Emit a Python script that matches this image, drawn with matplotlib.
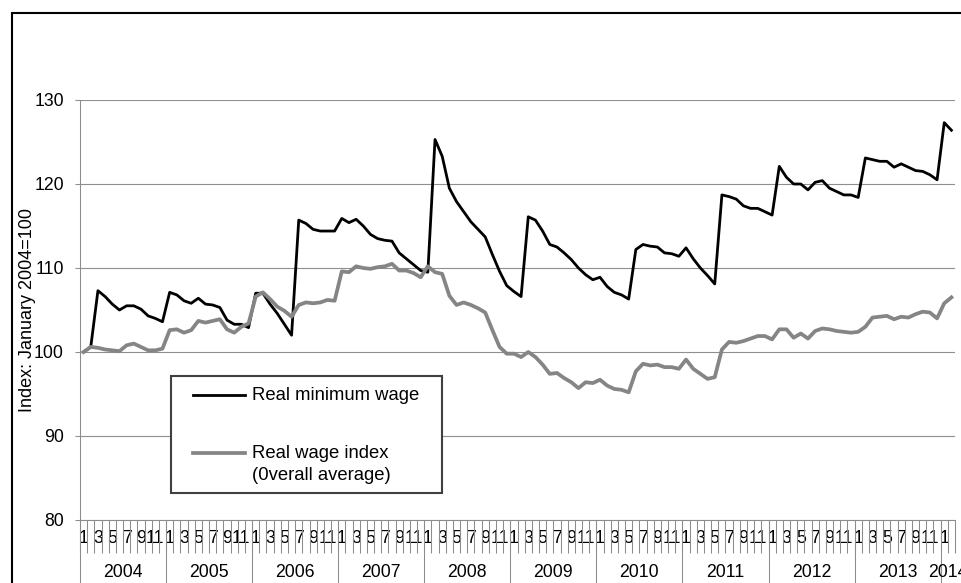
import numpy as np
import matplotlib.pyplot as plt
from matplotlib.patches import Rectangle

plt.rcParams['font.family'] = ['Liberation Sans', 'DejaVu Sans']

# categories: monthly, Jan 2004 - Feb 2014
year_labels = ['2004', '2005', '2006', '2007', '2008', '2009',
               '2010', '2011', '2012', '2013', '2014']
months_per_year = [12, 12, 12, 12, 12, 12, 12, 12, 12, 12, 2]

# index, January 2004 = 100
min_wage = [
    100.0, 100.6, 107.3, 106.6, 105.7, 105.0, 105.5, 105.5, 105.1, 104.3, 104.0, 103.6,  # 2004
    107.1, 106.8, 106.1, 105.8, 106.4, 105.7, 105.6, 105.3, 103.8, 103.3, 103.3, 102.9,  # 2005
    107.0, 107.0, 105.7, 104.6, 103.3, 102.0, 115.7, 115.3, 114.6, 114.4, 114.4, 114.4,  # 2006
    115.9, 115.4, 115.8, 115.0, 114.0, 113.5, 113.3, 113.2, 111.8, 111.1, 110.4, 109.7,  # 2007
    109.5, 125.3, 123.3, 119.5, 117.9, 116.7, 115.5, 114.6, 113.7, 111.6, 109.6, 107.9,  # 2008
    107.2, 106.6, 116.1, 115.7, 114.4, 112.8, 112.5, 111.8, 111.0, 110.0, 109.2, 108.6,  # 2009
    108.9, 107.8, 107.1, 106.8, 106.3, 112.2, 112.8, 112.6, 112.5, 111.8, 111.7, 111.4,  # 2010
    112.4, 111.1, 110.0, 109.1, 108.1, 118.7, 118.5, 118.2, 117.4, 117.1, 117.1, 116.7,  # 2011
    116.3, 122.1, 120.8, 120.0, 120.0, 119.3, 120.2, 120.4, 119.5, 119.1, 118.7, 118.7,  # 2012
    118.4, 123.1, 122.9, 122.7, 122.7, 122.0, 122.4, 122.0, 121.6, 121.5, 121.1, 120.5,  # 2013
    127.3, 126.4,  # 2014
]
real_wage = [
    100.0, 100.6, 100.5, 100.3, 100.2, 100.1, 100.8, 101.0, 100.6, 100.2, 100.2, 100.4,  # 2004
    102.6, 102.7, 102.3, 102.6, 103.7, 103.5, 103.7, 103.9, 102.7, 102.3, 103.0, 103.4,  # 2005
    106.6, 107.1, 106.3, 105.4, 104.9, 104.2, 105.6, 105.9, 105.8, 105.9, 106.2, 106.1,  # 2006
    109.6, 109.5, 110.2, 110.0, 109.9, 110.1, 110.2, 110.5, 109.7, 109.7, 109.4, 108.9,  # 2007
    110.2, 109.5, 109.3, 106.7, 105.6, 105.9, 105.6, 105.2, 104.7, 102.6, 100.6, 99.8,   # 2008
    99.8, 99.4, 100.0, 99.4, 98.5, 97.4, 97.5, 96.9, 96.4, 95.7, 96.4, 96.3,             # 2009
    96.7, 96.0, 95.6, 95.5, 95.2, 97.7, 98.6, 98.4, 98.5, 98.2, 98.2, 98.0,              # 2010
    99.1, 98.0, 97.4, 96.8, 97.0, 100.3, 101.2, 101.1, 101.3, 101.6, 101.9, 101.9,       # 2011
    101.5, 102.7, 102.7, 101.7, 102.2, 101.6, 102.5, 102.8, 102.7, 102.5, 102.4, 102.3,  # 2012
    102.4, 103.0, 104.1, 104.2, 104.3, 103.9, 104.2, 104.1, 104.5, 104.8, 104.7, 104.0,  # 2013
    105.8, 106.5,  # 2014
]

month_no = [m for n in months_per_year for m in range(1, n + 1)]
x = np.arange(len(min_wage))
gray = '#858585'
axis_col = '#8c8c8c'
fs = 12.7

fig = plt.figure(figsize=(9.62, 5.83), dpi=100)
ax = fig.add_axes([80 / 962, 63 / 583, 875 / 962, 420 / 583])

ax.plot(x, min_wage, color='black', lw=2.0, zorder=3)
ax.plot(x, real_wage, color=gray, lw=2.7, zorder=3)

ax.set_xlim(-0.5, len(x) - 0.5)
ax.set_ylim(80, 130)
ax.set_yticks(np.arange(80, 131, 10))
ax.yaxis.grid(True, color='#8f8f8f', lw=0.8)
ax.set_axisbelow(True)

# month labels (every other one) and category ticks
lbl_pos = [i for i, m in enumerate(month_no) if m % 2 == 1]
ax.set_xticks(lbl_pos, [str(month_no[i]) for i in lbl_pos])
ax.set_xticks(np.arange(len(x) + 1) - 0.5, minor=True)
ax.tick_params(axis='x', which='major', length=0, pad=7.5, labelsize=fs)
ax.tick_params(axis='x', which='minor', length=24, width=0.75, color=axis_col)
ax.tick_params(axis='y', length=3.6, width=0.75, color=axis_col, pad=8, labelsize=fs)

# year level of the category axis
bounds = np.cumsum([0] + months_per_year) - 0.5
centers = (bounds[:-1] + bounds[1:]) / 2
sec = ax.secondary_xaxis('bottom')
sec.set_xticks(bounds[:-1], [''] * len(year_labels))
sec.set_xticks(centers, year_labels, minor=True)
sec.tick_params(which='major', length=50, width=0.75, color=axis_col)
sec.tick_params(which='minor', length=0, pad=31.5, labelsize=fs)
sec.spines['bottom'].set_visible(False)

for s in ['top', 'right']:
    ax.spines[s].set_visible(False)
for s in ['left', 'bottom']:
    ax.spines[s].set_color(axis_col)
    ax.spines[s].set_linewidth(0.75)

ax.set_ylabel('Index: January 2004=100', fontsize=13)
ax.yaxis.set_label_coords(-0.0503, 0.5)

# legend box
tr = ax.transAxes
ax.add_patch(Rectangle((0.104, 0.0643), 0.3097, 0.2786, transform=tr,
                       fc='white', ec='#404040', lw=1.5, zorder=5))
ax.plot([0.1291, 0.1886], [0.2976, 0.2976], transform=tr, color='black', lw=2.0, zorder=6)
ax.text(0.1966, 0.2976, 'Real minimum wage', transform=tr, va='center', fontsize=13.3, zorder=6)
ax.plot([0.1291, 0.1886], [0.1595, 0.1595], transform=tr, color=gray, lw=2.7, zorder=6)
ax.text(0.1966, 0.1595, 'Real wage index', transform=tr, va='center', fontsize=13.3, zorder=6)
ax.text(0.1966, 0.1048, '(0verall average)', transform=tr, va='center', fontsize=13.3, zorder=6)

# outer chart frame
fig.patches.append(Rectangle((12 / 962, -0.1), 1.2, 570 / 583 + 0.1, transform=fig.transFigure,
                             fill=False, ec='black', lw=1.5))

fig.savefig('out.png', dpi=100)
